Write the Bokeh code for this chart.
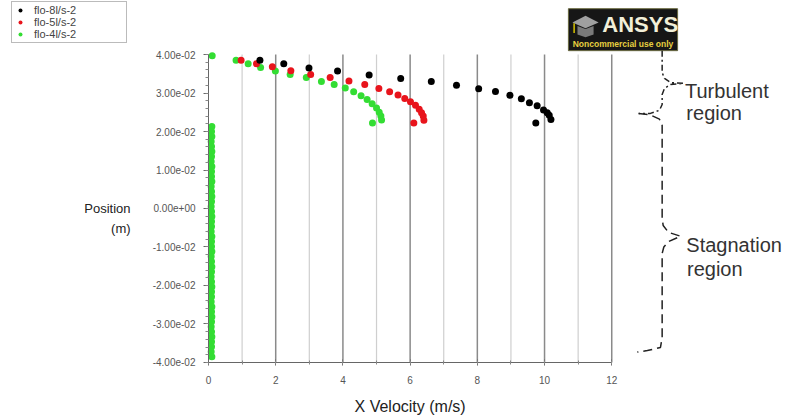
from bokeh.plotting import figure
from bokeh.models import (Range1d, SingleIntervalTicker, CustomJSTickFormatter,
                          Legend, LegendItem, LinearAxis)
from bokeh.core.properties import value
from bokeh.embed import file_html
from bokeh.resources import INLINE

FONT = "Liberation Sans"

# ---------------- data ----------------
series_names = ["flo-8l/s-2", "flo-5l/s-2", "flo-4l/s-2"]
series_colors = ["#000000", "#e8141c", "#33dd33"]

# flo-8l/s-2 (black)
vel_8 = [1.53, 2.24, 2.99, 3.84, 4.78, 5.72, 6.63, 7.38, 8.04, 8.54, 8.97,
         9.31, 9.55, 9.78, 9.97, 10.08, 10.14, 10.19, 9.74]
pos_8 = [0.0385, 0.0376, 0.0365, 0.0357, 0.0347, 0.0338, 0.0330, 0.0320,
         0.0311, 0.0304, 0.0294, 0.0285, 0.0275, 0.0267, 0.0256, 0.0249,
         0.0242, 0.0231, 0.0222]

# flo-5l/s-2 (red)
vel_5 = [0.97, 1.43, 1.90, 2.45, 3.04, 3.62, 4.18, 4.65, 5.07, 5.39, 5.64,
         5.84, 6.01, 6.16, 6.27, 6.34, 6.39, 6.41, 6.11]
pos_5 = [0.0385, 0.0376, 0.0368, 0.0358, 0.0348, 0.0340, 0.0331, 0.0322,
         0.0312, 0.0303, 0.0295, 0.0286, 0.0277, 0.0268, 0.0258, 0.0249,
         0.0240, 0.0229, 0.0222]

# flo-4l/s-2 (green)
vel_4 = [0.11, 0.82, 1.18, 1.55, 1.99, 2.43, 2.91, 3.36, 3.74, 4.07, 4.32,
         4.54, 4.72, 4.87, 5.00, 5.08, 5.13, 5.15, 4.88,
         0.10, 0.09, 0.10, 0.08, 0.09, 0.10, 0.09, 0.08, 0.10, 0.09, 0.09,
         0.10, 0.08, 0.09, 0.10, 0.09, 0.08, 0.09, 0.10, 0.09, 0.09, 0.08,
         0.10, 0.09, 0.09, 0.10, 0.08, 0.09, 0.10, 0.09, 0.08, 0.09, 0.10,
         0.09, 0.09, 0.08, 0.10, 0.09, 0.10, 0.09, 0.08, 0.09, 0.10, 0.09,
         0.09, 0.08, 0.10]
pos_4 = [0.0397, 0.0385, 0.0376, 0.0366, 0.0357, 0.0348, 0.0340, 0.0330,
         0.0322, 0.0313, 0.0303, 0.0293, 0.0283, 0.0272, 0.0261, 0.0250,
         0.0240, 0.0230, 0.0222,
         0.0213, 0.0200, 0.0187, 0.0174, 0.0161, 0.0148, 0.0135, 0.0122,
         0.0109, 0.0096, 0.0083, 0.0070, 0.0057, 0.0044, 0.0031, 0.0018,
         0.0005, -0.0008, -0.0021, -0.0034, -0.0047, -0.0060, -0.0073,
         -0.0086, -0.0099, -0.0112, -0.0125, -0.0138, -0.0151, -0.0164,
         -0.0177, -0.0190, -0.0203, -0.0216, -0.0229, -0.0242, -0.0255,
         -0.0268, -0.0281, -0.0294, -0.0307, -0.0320, -0.0333, -0.0346,
         -0.0359, -0.0372, -0.0385, -0.0398]

x_axis_title = "X Velocity (m/s)"
y_axis_title = ["Position", "(m)"]
grid_major_x = [2, 4, 6, 8, 10, 12]
grid_minor_x = [1, 3, 5, 7, 9, 11]
x_min, x_max = 0, 12
y_min, y_max = -0.04, 0.04

region_texts = ["Turbulent", "region", "Stagnation", "region"]

# ---------------- figure (frame covers the whole canvas) ----------------
p = figure(width=788, height=419, output_backend="svg", toolbar_location=None,
           x_range=Range1d(-6.19, 17.26), y_range=Range1d(-0.05481, 0.05403),
           x_axis_type=None, y_axis_type=None, min_border=0)
p.outline_line_color = None
p.background_fill_color = "white"
p.border_fill_color = "white"
p.xgrid.visible = False
p.ygrid.visible = False

# axes placed at fixed locations inside the frame
xa = LinearAxis(fixed_location=y_min, bounds=(x_min, x_max))
xa.ticker = SingleIntervalTicker(interval=2, num_minor_ticks=2)
xa.axis_line_color = "#666666"
xa.major_tick_line_color = "#666666"
xa.minor_tick_line_color = "#888888"
xa.major_tick_in = 3
xa.major_tick_out = 3
xa.minor_tick_in = 2
xa.minor_tick_out = 2
xa.major_label_standoff = 11
xa.major_label_text_font = FONT
xa.major_label_text_font_size = "10px"
xa.major_label_text_color = "#555555"
p.add_layout(xa, "below")

ya = LinearAxis(fixed_location=x_min, bounds=(y_min, y_max))
ya.ticker = SingleIntervalTicker(interval=0.01, num_minor_ticks=5)
ya.formatter = CustomJSTickFormatter(code="""
const s = tick.toExponential(2);
return s.replace(/e([+-])(\\d)$/, (m, a, b) => "e" + a + "0" + b);
""")
ya.axis_line_color = "#666666"
ya.major_tick_line_color = "#666666"
ya.minor_tick_line_color = "#888888"
ya.major_tick_in = 0
ya.major_tick_out = 5
ya.minor_tick_in = 0
ya.minor_tick_out = 3
ya.major_label_standoff = 8
ya.major_label_text_font = FONT
ya.major_label_text_font_size = "10px"
ya.major_label_text_color = "#555555"
p.add_layout(ya, "left")

# vertical grid lines
p.segment(x0=grid_minor_x, y0=[y_min] * len(grid_minor_x), x1=grid_minor_x,
          y1=[y_max] * len(grid_minor_x), line_color="#cfcfcf", line_width=1.2)
p.segment(x0=grid_major_x, y0=[y_min] * len(grid_major_x), x1=grid_major_x,
          y1=[y_max] * len(grid_major_x), line_color="#8a8a8a", line_width=1.5)

# axis titles
p.text(x=[(x_min + x_max) / 2], y=[-0.05143], text=[x_axis_title],
       text_font=value(FONT), text_font_size="16px", text_color="#222222",
       text_align="center", text_baseline="middle")
p.text(x=[-2.32, -2.32], y=[0.0, -0.0052], text=y_axis_title,
       text_font=value(FONT), text_font_size="13px", text_color="#222222",
       text_align="right", text_baseline="middle")

# data
r4 = p.scatter(vel_4, pos_4, size=7, color=series_colors[2], line_color=None)
r5 = p.scatter(vel_5, pos_5, size=7, color=series_colors[1], line_color=None)
r8 = p.scatter(vel_8, pos_8, size=7, color=series_colors[0], line_color=None)

legend = Legend(items=[LegendItem(label=series_names[0], renderers=[r8]),
                       LegendItem(label=series_names[1], renderers=[r5]),
                       LegendItem(label=series_names[2], renderers=[r4])],
                location=(11, 376), orientation="vertical")
legend.label_text_font = FONT
legend.label_text_font_size = "11px"
legend.label_text_color = "#444444"
legend.label_text_line_height = 0.9
legend.label_height = 10
legend.glyph_height = 10
legend.glyph_width = 12
legend.label_width = 90
legend.label_standoff = 8
legend.spacing = 0
legend.padding = 2
legend.margin = 0
legend.border_line_color = "#777777"
legend.border_line_width = 1
legend.background_fill_color = "white"
legend.background_fill_alpha = 1
p.add_layout(legend)

# ANSYS logo
p.quad(left=[10.71], right=[13.96], top=[0.0519], bottom=[0.0410],
       fill_color="#161616", line_color="#6a6a40", line_width=1)
p.patch([10.83, 11.22, 11.61, 11.22], [0.0483, 0.0501, 0.0483, 0.0468],
        fill_color="#a0a0a0", line_color=None)
p.patch([10.98, 10.98, 11.22, 11.46, 11.46, 11.22],
        [0.0474, 0.0452, 0.0445, 0.0452, 0.0474, 0.0466],
        fill_color="#7a7a7a", line_color=None)
p.line([10.88, 10.88], [0.0481, 0.0456], line_color="#d8c400", line_width=1.5)
p.text(x=[11.72], y=[0.0478], text=["ANSYS"], text_font=value(FONT),
       text_font_style="bold", text_font_size="22px", text_color="#f2efd8",
       text_align="left", text_baseline="middle")
p.text(x=[12.335], y=[0.04265], text=["Noncommercial use only"],
       text_font=value(FONT), text_font_style="bold", text_font_size="8.5px",
       text_color="#e8d040", text_align="center", text_baseline="middle")

# region braces
p.line([13.50, 13.50, 13.57, 13.75, 14.14, 13.75, 13.57, 13.50, 13.50, 13.42,
        13.15, 12.80],
       [0.0410, 0.0353, 0.0338, 0.0327, 0.0325, 0.0322, 0.0312, 0.0296,
        0.0270, 0.0255, 0.0247, 0.0247],
       line_color="#222222", line_width=1.5, line_dash="6 3 2 3")
p.line([12.80, 13.15, 13.42, 13.50, 13.50, 13.53, 13.69, 14.05, 13.69, 13.55,
        13.50, 13.50, 13.45, 13.06, 12.76],
       [0.0247, 0.0243, 0.0232, 0.0216, -0.0026, -0.0044, -0.0062, -0.0072,
        -0.0086, -0.0100, -0.0117, -0.0335, -0.0361, -0.0369, -0.0373],
       line_color="#222222", line_width=1.5, line_dash="9 5")

p.text(x=[14.18, 14.22, 14.22, 14.24], y=[0.0306, 0.0247, -0.0094, -0.0156],
       text=region_texts, text_font=value(FONT), text_font_size="20px",
       text_color="#333333", text_align="left", text_baseline="middle")

open("out.html", "w").write(file_html(p, INLINE))
